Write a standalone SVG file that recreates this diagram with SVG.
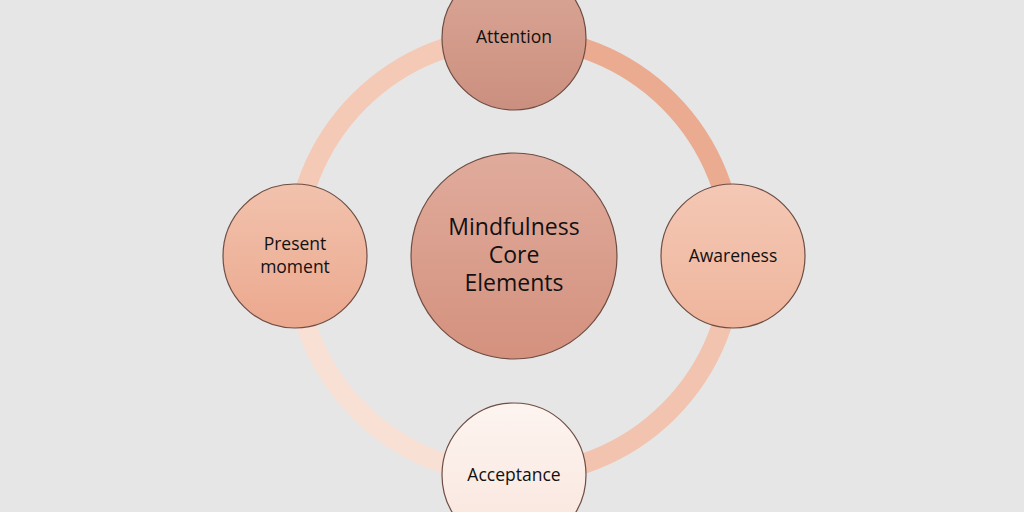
<svg xmlns="http://www.w3.org/2000/svg" width="1024" height="512" viewBox="0 0 1024 512">
<defs>
<linearGradient id="gAtt" x1="0" y1="0" x2="0" y2="1"><stop offset="0" stop-color="#dba797"/><stop offset="1" stop-color="#cb8f7f"/></linearGradient>
<linearGradient id="gCore" x1="0" y1="0" x2="0" y2="1"><stop offset="0" stop-color="#e0ab9c"/><stop offset="1" stop-color="#d4917e"/></linearGradient>
<linearGradient id="gAw" x1="0" y1="0" x2="0" y2="1"><stop offset="0" stop-color="#f4c8b5"/><stop offset="1" stop-color="#efb59c"/></linearGradient>
<linearGradient id="gPm" x1="0" y1="0" x2="0" y2="1"><stop offset="0" stop-color="#f2c2ad"/><stop offset="1" stop-color="#eba88e"/></linearGradient>
<linearGradient id="gAc" x1="0" y1="0" x2="0" y2="1"><stop offset="0" stop-color="#fdf4f0"/><stop offset="1" stop-color="#f9e5dc"/></linearGradient>
</defs>
<style>
.node{stroke:#6e4d43;stroke-width:1.2}
.ring{fill:none;stroke-width:20}
text{font-family:"Open Sans","Liberation Sans",sans-serif;fill:#111;text-anchor:middle}
.s{font-size:17.5px}
.c{font-size:23px}
</style>
<rect width="1024" height="512" fill="#e6e6e6"/>
<g id="connectors">
<path class="ring" d="M514 37 A219 219 0 0 1 733 256" stroke="#eaab91"/>
<path class="ring" d="M733 256 A219 219 0 0 1 514 475" stroke="#f2c3ae"/>
<path class="ring" d="M514 475 A219 219 0 0 1 295 256" stroke="#f8e0d5"/>
<path class="ring" d="M295 256 A219 219 0 0 1 514 37" stroke="#f4c9b6"/>
</g>
<g id="core"><circle class="node" cx="514" cy="256" r="103" fill="url(#gCore)"/>
<text class="c" x="514" y="235">Mindfulness</text><text class="c" x="514" y="263">Core</text><text class="c" x="514" y="291">Elements</text></g>
<g id="attention"><circle class="node" cx="514" cy="38" r="72" fill="url(#gAtt)"/><text class="s" x="514" y="43">Attention</text></g>
<g id="awareness"><circle class="node" cx="733" cy="256" r="72" fill="url(#gAw)"/><text class="s" x="733" y="262">Awareness</text></g>
<g id="acceptance"><circle class="node" cx="514" cy="475" r="72" fill="url(#gAc)"/><text class="s" x="514" y="481">Acceptance</text></g>
<g id="present"><circle class="node" cx="295" cy="256" r="72" fill="url(#gPm)"/><text class="s" x="295" y="250">Present</text><text class="s" x="295" y="273">moment</text></g>
</svg>
